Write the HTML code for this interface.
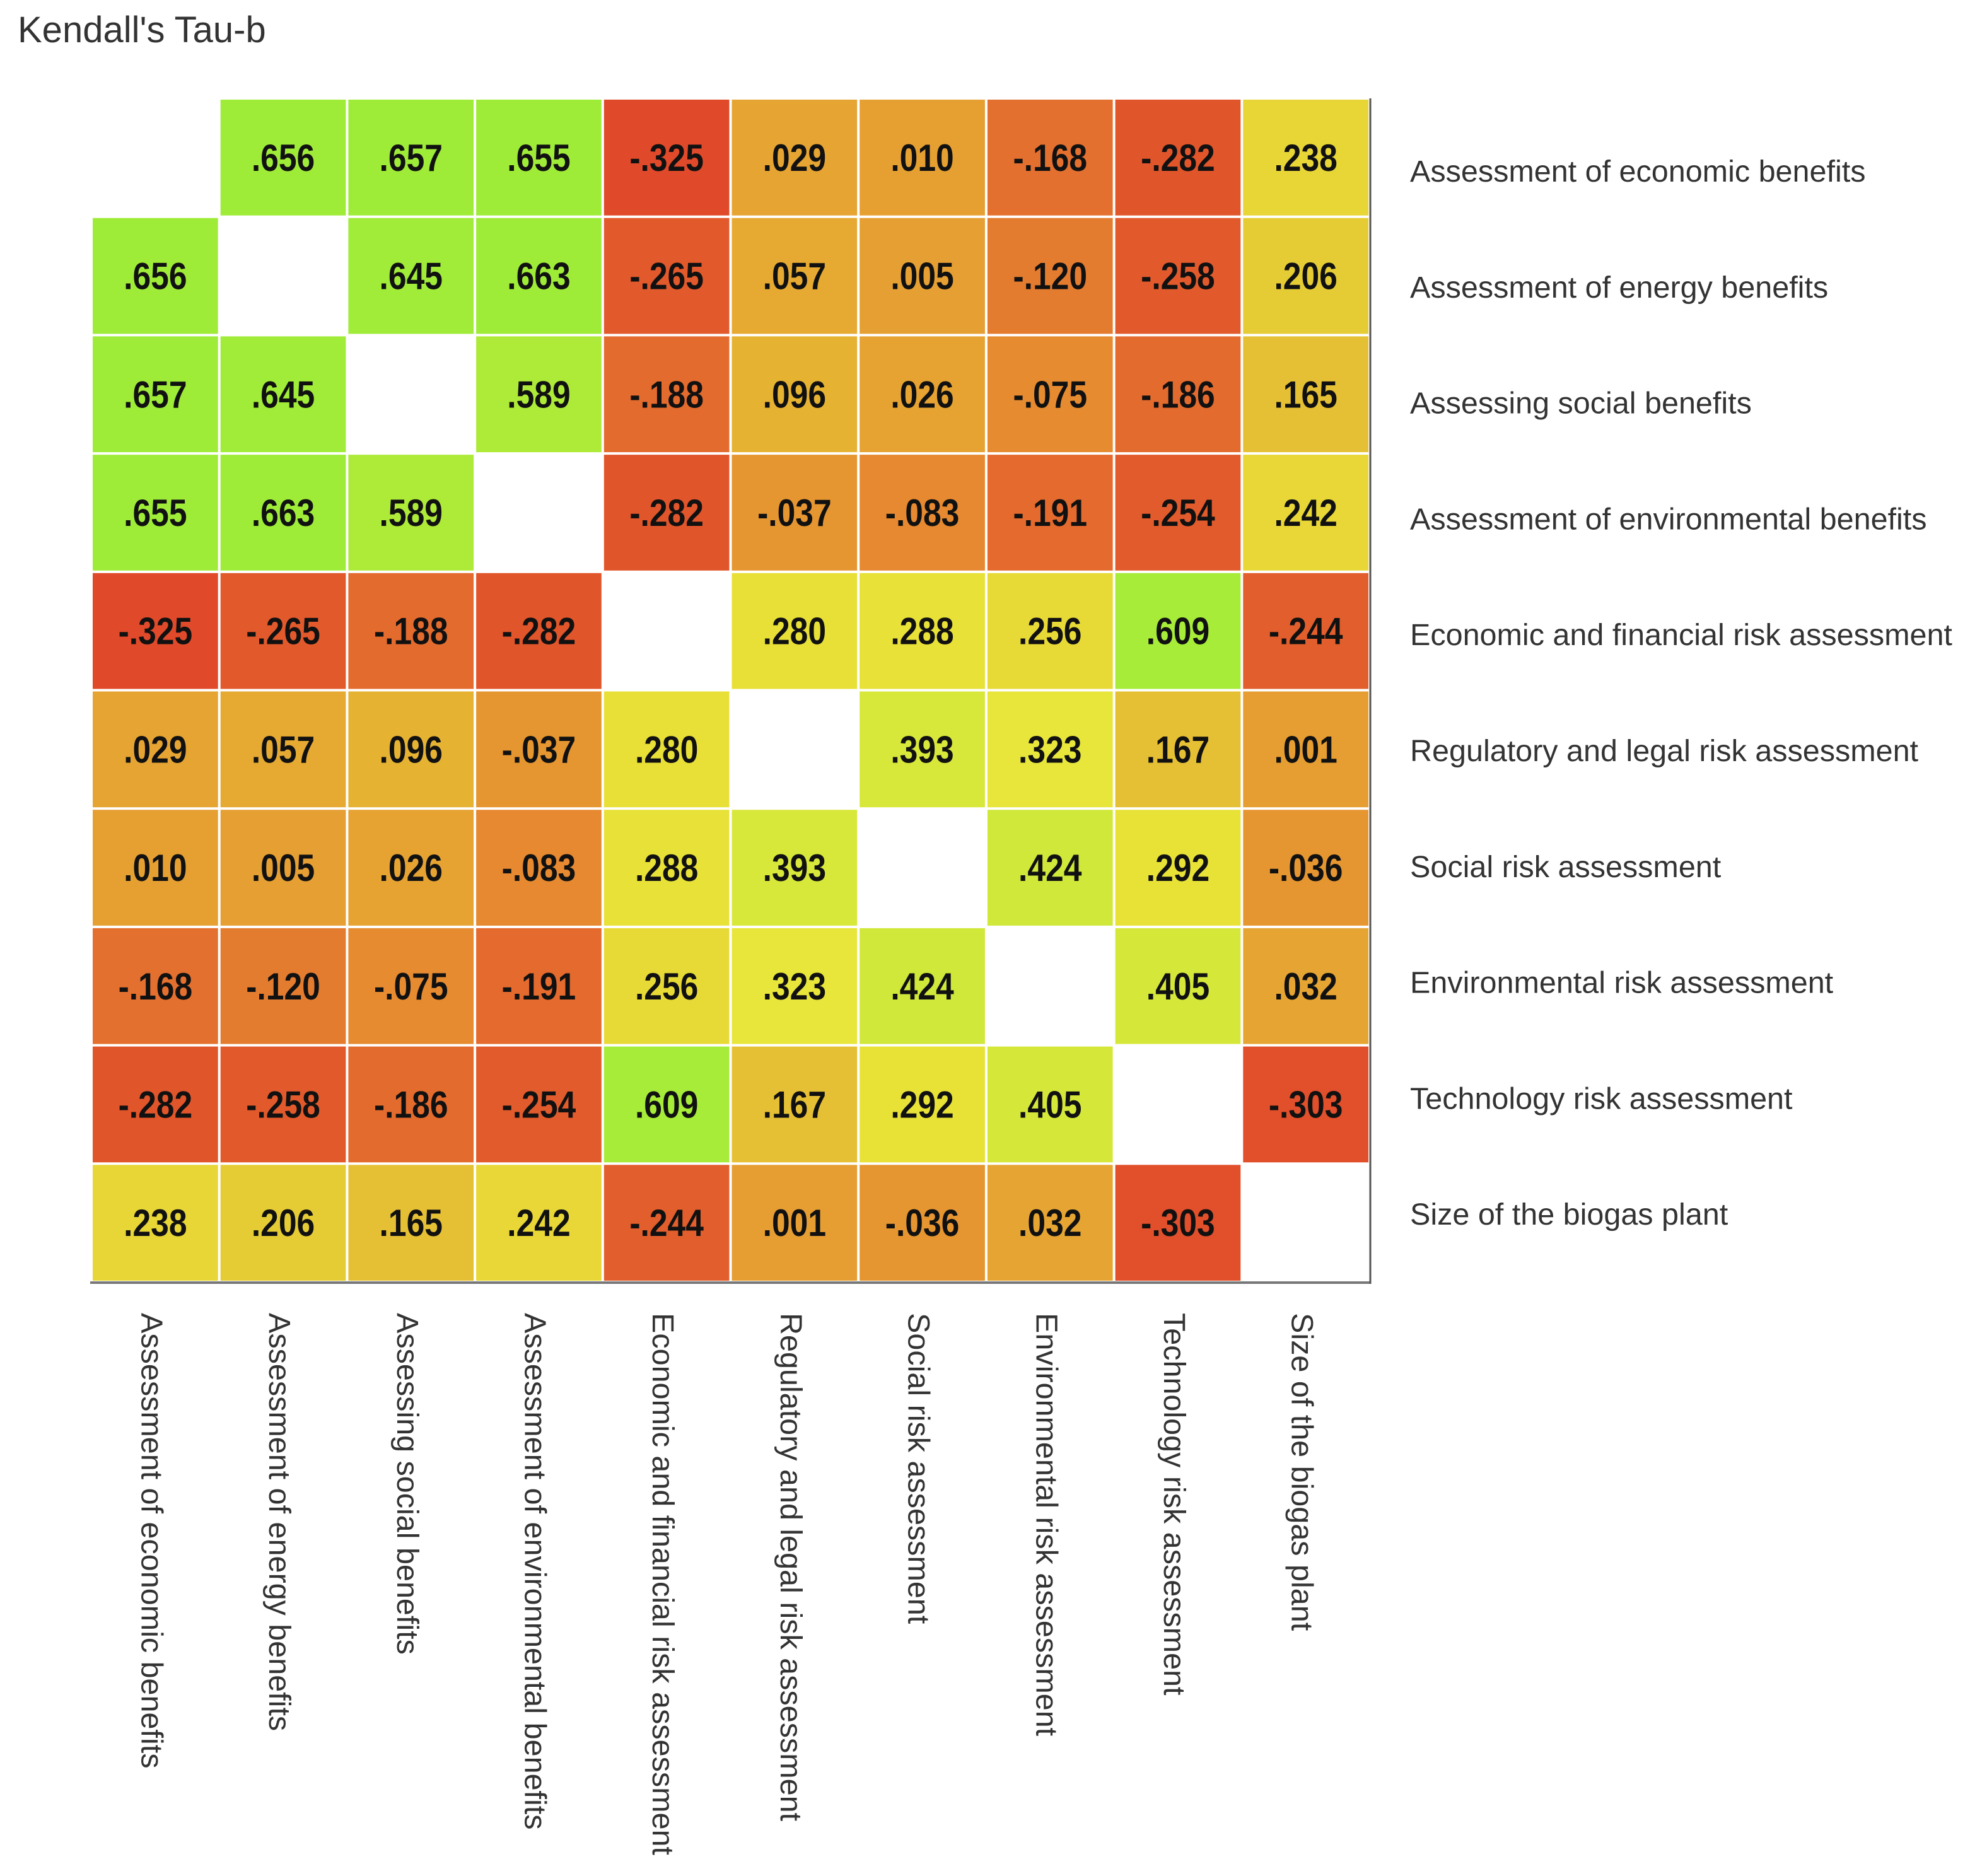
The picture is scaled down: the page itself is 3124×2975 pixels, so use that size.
<!DOCTYPE html>
<html><head><meta charset="utf-8"><style>
html,body{margin:0;padding:0;background:#fff;}
svg{display:block;}
.v{font-family:"Liberation Sans Narrow","Liberation Sans",sans-serif;font-weight:bold;font-size:60px;fill:#111;}
.lab{font-family:"Liberation Sans",sans-serif;font-size:48.5px;fill:#333;}
</style></head><body>
<svg id="chart" width="3124" height="2975" viewBox="0 0 3124 2975" xmlns="http://www.w3.org/2000/svg">
<text x="28" y="67" font-family="Liberation Sans, sans-serif" font-size="58" fill="#333">Kendall's Tau-b</text>
<g id="cells"></g><g id="rowlabs"></g><g id="collabs"></g>
<line x1="143" y1="2034" x2="2174" y2="2034" stroke="#777" stroke-width="4"/>
<line x1="2173" y1="156" x2="2173" y2="2036" stroke="#555" stroke-width="3"/>
</svg>
<script>
const labels = ["Assessment of  economic benefits","Assessment of energy benefits","Assessing social benefits","Assessment of environmental benefits","Economic and financial risk assessment","Regulatory and legal risk assessment","Social risk assessment","Environmental risk assessment","Technology risk assessment","Size of the biogas plant"];
const colLabels = ["Assessment of economic benefits","Assessment of energy benefits","Assessing social benefits","Assessment of environmental benefits","Economic and financial risk assessment","Regulatory and legal risk assessment","Social risk assessment","Environmental risk assessment","Technology risk assessment","Size of the biogas plant"];
const row0 = [null,.656,.657,.655,-.325,.029,.010,-.168,-.282,.238];
const row1 = [.656,null,.645,.663,-.265,.057,.005,-.120,-.258,.206];
const row2 = [.657,.645,null,.589,-.188,.096,.026,-.075,-.186,.165];
const row3 = [.655,.663,.589,null,-.282,-.037,-.083,-.191,-.254,.242];
const row4 = [-.325,-.265,-.188,-.282,null,.280,.288,.256,.609,-.244];
const row5 = [.029,.057,.096,-.037,.280,null,.393,.323,.167,.001];
const row6 = [.010,.005,.026,-.083,.288,.393,null,.424,.292,-.036];
const row7 = [-.168,-.120,-.075,-.191,.256,.323,.424,null,.405,.032];
const row8 = [-.282,-.258,-.186,-.254,.609,.167,.292,.405,null,-.303];
const row9 = [.238,.206,.165,.242,-.244,.001,-.036,.032,-.303,null];
const rows = [row0,row1,row2,row3,row4,row5,row6,row7,row8,row9];

const NS="http://www.w3.org/2000/svg";
const x0=145, cw=202.7, y0=156, ch=187.7;
const xPos=i=>x0+i*cw, yPos=i=>y0+i*ch;
const stops=[[-.325,[224,74,42]],[-.26,[226,90,44]],[-.19,[228,106,46]],[-.12,[228,124,48]],[-.08,[230,138,48]],[-.037,[230,150,48]],[.01,[230,160,50]],[.096,[230,178,50]],[.166,[230,192,52]],[.206,[230,204,52]],[.24,[232,214,54]],[.28,[232,224,54]],[.323,[232,230,58]],[.393,[216,232,58]],[.424,[208,232,58]],[.589,[174,234,56]],[.609,[166,236,56]],[.66,[158,236,56]]];
function col(v){
  if(v<=stops[0][0]) return 'rgb('+stops[0][1]+')';
  for(let k=1;k<stops.length;k++){ if(v<=stops[k][0]){const a=stops[k-1],b=stops[k];const t=(v-a[0])/(b[0]-a[0]);return 'rgb('+a[1].map((c,j)=>Math.round(c+(b[1][j]-c)*t)).join(',')+')';} }
  return 'rgb('+stops[stops.length-1][1]+')';
}
function fmt(v){const s=Math.abs(v).toFixed(3).replace(/^0/,'');return (v<0?'-':'')+s;}
const gc=document.getElementById('cells');
rows.forEach((r,i)=>r.forEach((v,j)=>{
  if(v===null) return;
  const rc=document.createElementNS(NS,'rect');
  
  
  rc.setAttribute('x',xPos(j)+2);rc.setAttribute('y',yPos(i)+2);
  rc.setAttribute('width',cw-4);rc.setAttribute('height',ch-4);
  rc.setAttribute('fill',col(v));gc.appendChild(rc);
  const t=document.createElementNS(NS,'text');
  
  
  const cx=xPos(j)+cw/2, cy=yPos(i)+ch/2+21;
  t.setAttribute('class','v');t.setAttribute('text-anchor','middle');
  t.setAttribute('x',0);t.setAttribute('y',0);
  t.setAttribute('transform','translate('+cx+' '+cy+') scale(0.86 1)');
  t.textContent=fmt(v);gc.appendChild(t);
}));
const gr=document.getElementById('rowlabs');
labels.forEach((l,i)=>{
  const t=document.createElementNS(NS,'text');
  
  
  t.setAttribute('class','lab');t.setAttribute('x',2236);t.setAttribute('y',288+i*183.8);
  t.textContent=l;gr.appendChild(t);
});
const gl=document.getElementById('collabs');
colLabels.forEach((l,i)=>{
  const t=document.createElementNS(NS,'text');
  
  
  const cx=xPos(i)+cw/2-22, cy=2082;
  t.setAttribute('class','lab');t.setAttribute('x',cx);t.setAttribute('y',cy);
  t.setAttribute('transform','rotate(90 '+cx+' '+cy+')');
  t.textContent=l;gl.appendChild(t);
});
</script>
</body></html>
